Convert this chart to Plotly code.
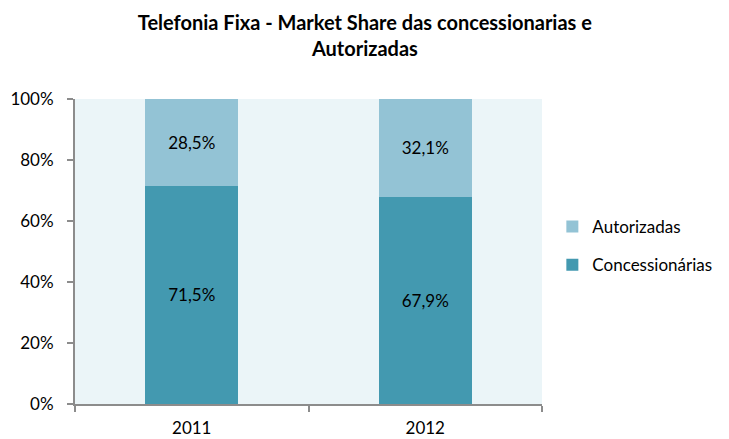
import plotly.graph_objects as go

years = ["2011", "2012"]
concessionarias = [0.715, 0.679]
autorizadas = [0.285, 0.321]
conc_labels = ["71,5%", "67,9%"]
aut_labels = ["28,5%", "32,1%"]

FONT = "Lato, 'Open Sans', sans-serif"

fig = go.Figure()
fig.add_trace(go.Bar(
    x=years, y=concessionarias, name="Concessionárias",
    marker=dict(color="#4399B0", line=dict(width=0)),
    text=conc_labels, textposition="inside", insidetextanchor="middle",
    textfont=dict(color="black", size=17, family=FONT),
    legendgroup="c", legendrank=2, width=0.4,
))
fig.add_trace(go.Bar(
    x=years, y=autorizadas, name="Autorizadas",
    marker=dict(color="#93C3D5", line=dict(width=0)),
    text=aut_labels, textposition="inside", insidetextanchor="middle",
    textfont=dict(color="black", size=17, family=FONT),
    legendgroup="a", legendrank=1, width=0.4,
))

# the page body has an 8px margin, so the figure is drawn 8px smaller
fig.update_layout(
    barmode="stack",
    width=721, height=431,
    margin=dict(l=67, r=187, t=91, b=35, autoexpand=False),
    paper_bgcolor="white",
    plot_bgcolor="#EBF5F8",
    font=dict(family=FONT, size=17, color="black"),
    title=dict(
        text="<b>Telefonia Fixa - Market Share das concessionarias e<br>Autorizadas</b>",
        x=0.495, xanchor="center", xref="container",
        y=0.950, yanchor="top", yref="container",
        font=dict(size=20, family=FONT, color="black"),
    ),
    legend=dict(
        x=0.755, xanchor="left", xref="container",
        y=0.518, yanchor="middle",
        traceorder="grouped", tracegroupgap=13,
        font=dict(size=17, family=FONT),
        itemwidth=30,
    ),
    uniformtext=dict(mode=False),
)
fig.update_xaxes(
    type="category", showline=True, linecolor="#8C8C8C", linewidth=2,
    ticks="outside", tickson="boundaries", ticklen=6, tickcolor="#8C8C8C",
    tickwidth=2, showgrid=False, tickfont=dict(size=17),
    ticklabelstandoff=8, automargin=False,
)
fig.update_yaxes(
    range=[0, 1], tickformat=".0%", dtick=0.2, showline=True,
    linecolor="#8C8C8C", linewidth=2, ticks="outside", ticklen=6,
    tickcolor="#8C8C8C", tickwidth=2, showgrid=False, zeroline=False,
    tickfont=dict(size=17), ticklabelstandoff=10, automargin=False,
)

fig.write_html("out.html")
